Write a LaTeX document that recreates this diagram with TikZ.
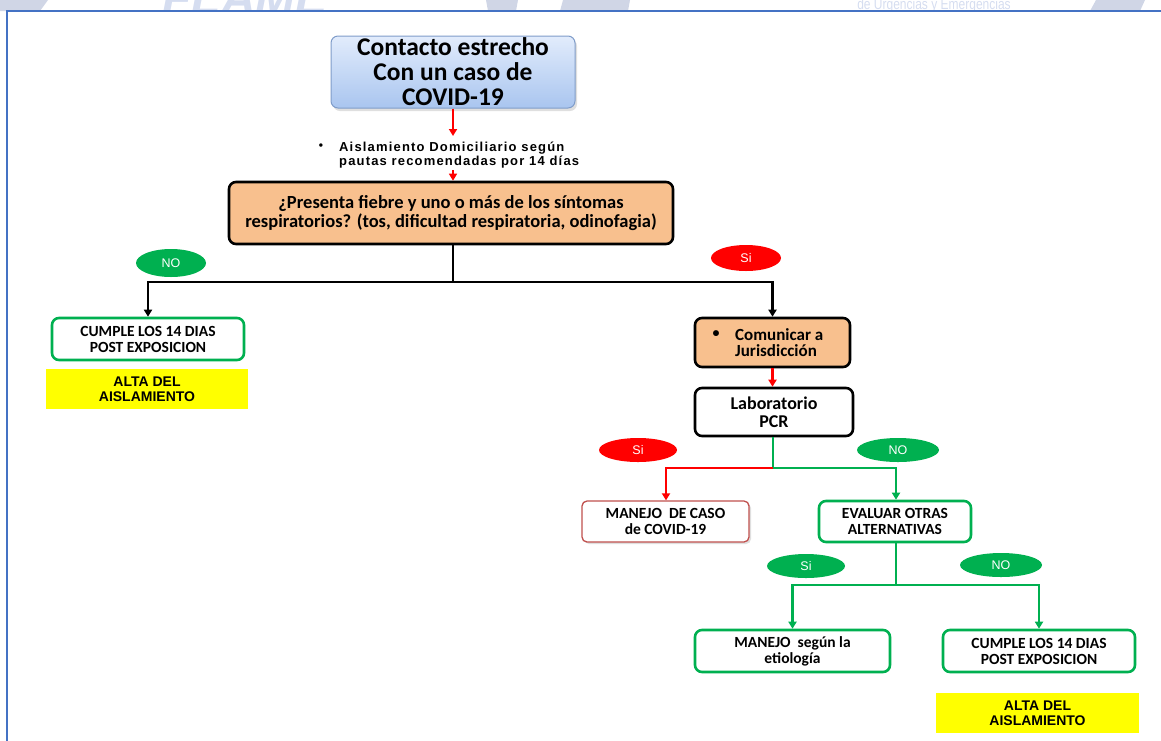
\documentclass[tikz,border=0pt]{standalone}
\usepackage{fontspec}
\setmainfont{Carlito}
\newfontfamily\arialf{Liberation Sans}
\usetikzlibrary{arrows.meta,shadows,shapes.geometric}
\definecolor{peach}{HTML}{F8C08E}
\definecolor{gr}{HTML}{00B050}
\definecolor{rd}{HTML}{FF0000}
\definecolor{dred}{HTML}{C0504D}
\definecolor{frameblue}{HTML}{4472C4}
\definecolor{wm}{HTML}{D5DDF0}
\definecolor{wmg}{HTML}{D0D6E6}
\definecolor{yel}{HTML}{FFFF00}
\definecolor{topfill}{HTML}{A9C5EF}
\definecolor{topfilltop}{HTML}{E2ECFC}
\definecolor{topdraw}{HTML}{7F9CC9}
\begin{document}
\begin{tikzpicture}[x=1pt,y=-1pt,
  base/.style={rounded corners=7pt, align=center, inner sep=0pt, font=\bfseries},
  topbox/.style={base, draw=topdraw, line width=1pt, top color=topfilltop, bottom color=topfill,
     drop shadow={shadow xshift=2pt, shadow yshift=-3pt, opacity=0.25},
     font=\fontsize{25.5}{25}\selectfont\bfseries},
  qbox/.style={base, draw=black, line width=2.6pt, fill=peach, font=\fontsize{18.5}{19.5}\selectfont\bfseries},
  wbox/.style={base, draw=black, line width=2.6pt, fill=white, font=\fontsize{18}{18}\selectfont\bfseries},
  gbox/.style={base, draw=gr, line width=2.6pt, fill=white, font=\fontsize{15.5}{16}\selectfont\bfseries},
  rbox/.style={base, rounded corners=5pt, draw=dred, line width=1.3pt, fill=white,
     drop shadow={shadow xshift=2pt, shadow yshift=-2pt, opacity=0.25},
     font=\fontsize{15.5}{16}\selectfont\bfseries},
  ybox/.style={inner sep=0pt, fill=yel, align=center, font=\arialf\fontsize{14}{15}\selectfont\bfseries},
  pill/.style={ellipse, inner sep=0pt, text=white, font=\arialf\fontsize{12.5}{12}\selectfont},
  gpill/.style={pill, fill=gr},
  rpill/.style={pill, fill=rd},
  tip/.style={-{Triangle[width=8pt,length=7pt]}},
  blk/.style={tip, draw=black, line width=2.4pt},
  redl/.style={tip, draw=rd, line width=2.4pt},
  grl/.style={tip, draw=gr, line width=2.4pt},
  redn/.style={draw=rd, line width=2.4pt},
  grn/.style={draw=gr, line width=2.4pt}]
\useasboundingbox (0,0) rectangle (1161,740);
% faint watermark at the top
\begin{scope}
\clip (0,0) rectangle (1161,11);
\fill[wmg] (0,0) -- (48,0) -- (40,11) -- (0,11) -- cycle;
\fill[wmg] (486,0) -- (518,0) -- (516,11) -- (488,11) -- cycle;
\fill[wmg] (563,0) -- (630,0) -- (628,11) -- (560,11) -- cycle;
\fill[wmg] (1096,0) -- (1145,0) -- (1140,11) -- (1090,11) -- cycle;
\node[wm, anchor=base, font=\arialf\bfseries\itshape\fontsize{48}{48}\selectfont] (wmt) at (245,14) {FLAME};
\node[wm, anchor=base, xscale=0.8, font=\arialf\fontsize{15}{15}\selectfont] (wms) at (934,9) {de Urgencias y Emergencias};
\end{scope}
% frame
\draw[frameblue, line width=2pt] (1170,11) -- (7,11) -- (7,750);
% nodes
\node[topbox, minimum width=244pt, minimum height=72pt] (top) at (453,72) {Contacto estrecho\\Con un caso de\\COVID-19};
\node[font=\arialf\fontsize{12}{14}\selectfont\bfseries] (bul) at (321,147) {•};
\node[anchor=west, align=left, inner sep=0pt, font=\arialf\fontsize{13}{14}\selectfont\bfseries\addfontfeature{LetterSpace=9}] (ais) at (339,155) {Aislamiento Domiciliario según\\pautas recomendadas por 14 días};
\node[qbox, minimum width=444pt, minimum height=62pt] (q) at (451,213) {¿Presenta fiebre y uno o más de los síntomas\\respiratorios? (tos, dificultad respiratoria, odinofagia)};
\node[gpill, minimum width=70pt, minimum height=28pt] (no1) at (171,263) {NO};
\node[rpill, minimum width=70pt, minimum height=26pt] (si1) at (746,258) {Si};
\node[gbox, minimum width=192pt, minimum height=42pt] (c1) at (148,339) {CUMPLE LOS 14 DIAS\\POST EXPOSICION};
\node[ybox, minimum width=202pt, minimum height=40pt] (y1) at (147,389) {ALTA DEL\\AISLAMIENTO};
\node[qbox, minimum width=155pt, minimum height=49pt] (com) at (772.5,342.5) {};
\node[font=\fontsize{14}{14}\selectfont\bfseries] (bul2) at (716,334) {•};
\node[anchor=west, align=left, inner sep=0pt, font=\fontsize{17}{16}\selectfont\bfseries] (comt) at (735,343) {Comunicar a\\Jurisdicción};
\node[wbox, minimum width=158pt, minimum height=48pt] (lab) at (774,412) {Laboratorio\\PCR};
\node[rpill, minimum width=78pt, minimum height=24pt] (si2) at (638,450) {Si};
\node[gpill, minimum width=82pt, minimum height=24pt] (no2) at (898,450) {NO};
\node[rbox, minimum width=167pt, minimum height=41pt] (mc) at (665.5,521.5) {MANEJO\ \ DE CASO\\de COVID-19};
\node[gbox, minimum width=152pt, minimum height=41pt] (ev) at (895,521.5) {EVALUAR OTRAS\\ALTERNATIVAS};
\node[gpill, minimum width=78pt, minimum height=24pt] (si3) at (806,566) {Si};
\node[gpill, minimum width=82pt, minimum height=24pt] (no3) at (1001,565) {NO};
\node[gbox, minimum width=195pt, minimum height=42pt] (ms) at (792.5,651) {MANEJO\ \ según la\\etiología};
\node[gbox, minimum width=192pt, minimum height=42pt] (c2) at (1039,651) {CUMPLE LOS 14 DIAS\\POST EXPOSICION};
\node[ybox, minimum width=203pt, minimum height=40pt] (y2) at (1037.5,713) {ALTA DEL\\AISLAMIENTO};
% junctions
\coordinate (j1) at (453,282);
\coordinate (j2) at (773,468);
\coordinate (j3) at (896,585);
\coordinate (a1) at (453,136);
\coordinate (a2) at (453,170);
% connectors
\draw[redl] (top.south) -- (a1);
\draw[redl, line width=1.5pt] (a2) -- (q.north -| a2);
\draw[draw=black, line width=2.4pt] (q.south -| j1) -- (j1);
\draw[blk] (j1) -| (c1.north);
\draw[blk] (j1) -| (com.north);
\draw[redl] (com.south) -- (com.south |- lab.north);
\draw[grn] (lab.south -| j2) -- (j2);
\draw[redl] (j2) -| (mc.north -| 666,0);
\draw[grl] (j2) -| (ev.north -| 896,0);
\draw[grn] (ev.south -| j3) -- (j3);
\draw[grl] (j3) -| (ms.north);
\draw[grl] (j3) -| (c2.north);
\end{tikzpicture}
\end{document}
